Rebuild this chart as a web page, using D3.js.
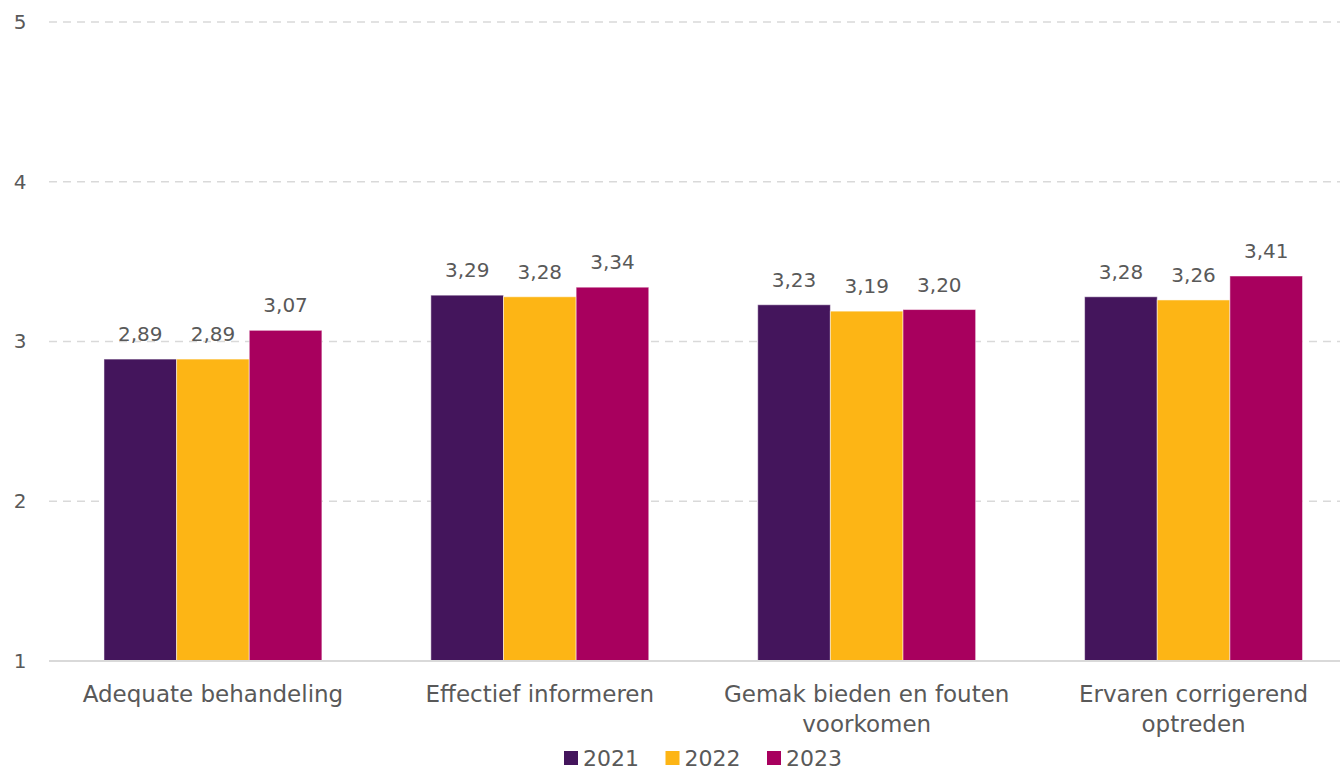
<!DOCTYPE html>
<html>
<head>
<meta charset="utf-8">
<script src="https://cdn.jsdelivr.net/npm/d3@7"></script>
<style>
  body { margin: 0; background: #fff; }
  text { font-family: "DejaVu Sans", Verdana, sans-serif; fill: #595959; }
</style>
</head>
<body>
<div id="chart-area"></div>
<script>
const categories = [
    ["Adequate behandeling"],
    ["Effectief informeren"],
    ["Gemak bieden en fouten", "voorkomen"],
    ["Ervaren corrigerend", "optreden"]
];
const years = ["2021", "2022", "2023"];
const values2021 = [2.89, 3.29, 3.23, 3.28];
const values2022 = [2.89, 3.28, 3.19, 3.26];
const values2023 = [3.07, 3.34, 3.20, 3.41];
const yTicks = [1, 2, 3, 4, 5];
const colors = ["#44155C", "#FDB515", "#A8005E"];

const series = [values2021, values2022, values2023];
const width = 1340, height = 771;

const svg = d3.select("#chart-area")
    .append("svg")
    .attr("width", width)
    .attr("height", height);

const x = d3.scaleBand()
    .domain(categories.map((d, i) => i))
    .range([49.5, 1357])
    .paddingInner(0)
    .paddingOuter(0);

const x1 = d3.scaleBand()
    .domain(years)
    .range([0, x.bandwidth()])
    .paddingInner(0)
    .paddingOuter(0.75);

const y = d3.scaleLinear()
    .domain([1, 5])
    .range([661, 22]);

// gridlines
svg.append("g")
    .selectAll("line")
    .data(yTicks.slice(1))
    .enter()
    .append("line")
    .attr("x1", 49)
    .attr("x2", width)
    .attr("y1", d => y(d))
    .attr("y2", d => y(d))
    .attr("stroke", "#D9D9D9")
    .attr("stroke-width", 1.3)
    .attr("stroke-dasharray", "8,6");

// y tick labels
const yAxisCall = d3.axisLeft(y)
    .tickValues(yTicks)
    .tickSize(0)
    .tickFormat(d3.format("d"));
const yAxis = svg.append("g")
    .attr("transform", "translate(36,0)")
    .call(yAxisCall);
yAxis.select(".domain").remove();
yAxis.selectAll("text")
    .attr("font-size", "20px")
    .attr("fill", "#595959")
    .attr("font-family", "DejaVu Sans, Verdana, sans-serif")
    .attr("text-anchor", "middle")
    .attr("x", -16);

// bars
const groups = svg.append("g")
    .selectAll("g")
    .data(categories)
    .enter()
    .append("g")
    .attr("transform", (d, i) => "translate(" + x(i) + ",0)");

groups.selectAll("rect")
    .data((d, i) => years.map((yr, k) => ({ yr: yr, k: k, v: series[k][i] })))
    .enter()
    .append("rect")
    .attr("x", d => x1(d.yr))
    .attr("width", x1.bandwidth())
    .attr("y", d => y(d.v))
    .attr("height", d => y(1) - y(d.v))
    .attr("fill", d => colors[d.k])
    .attr("stroke", "#ffffff")
    .attr("stroke-opacity", 0.5)
    .attr("stroke-width", 1);

groups.selectAll(".label")
    .data((d, i) => years.map((yr, k) => ({ yr: yr, k: k, v: series[k][i] })))
    .enter()
    .append("text")
    .attr("class", "label")
    .attr("x", d => x1(d.yr) + x1.bandwidth() / 2)
    .attr("y", d => y(d.v) - 18)
    .attr("text-anchor", "middle")
    .attr("font-size", "20px")
    .attr("fill", "#404040")
    .text(d => d3.format(".2f")(d.v).replace(".", ","));

// x baseline
svg.append("line")
    .attr("x1", 49)
    .attr("x2", width)
    .attr("y1", y(1))
    .attr("y2", y(1))
    .attr("stroke", "#D9D9D9")
    .attr("stroke-width", 2);

// category labels
const catLabels = svg.append("g")
    .selectAll("text")
    .data(categories)
    .enter()
    .append("text")
    .attr("x", (d, i) => x(i) + x.bandwidth() / 2)
    .attr("y", 702)
    .attr("text-anchor", "middle")
    .attr("font-size", "23px");
catLabels.selectAll("tspan")
    .data(d => d)
    .enter()
    .append("tspan")
    .attr("x", function () { return d3.select(this.parentNode).attr("x"); })
    .attr("dy", (d, i) => i === 0 ? 0 : 30)
    .text(d => d);

// legend
const legend = svg.append("g")
    .selectAll("g")
    .data(years)
    .enter()
    .append("g")
    .attr("transform", (d, i) => "translate(" + (564 + i * 101.5) + ",751)");
legend.append("rect")
    .attr("width", 14)
    .attr("height", 14)
    .attr("fill", (d, i) => colors[i]);
legend.append("text")
    .attr("x", 19)
    .attr("y", 15)
    .attr("font-size", "22px")
    .text(d => d);
</script>
</body>
</html>
